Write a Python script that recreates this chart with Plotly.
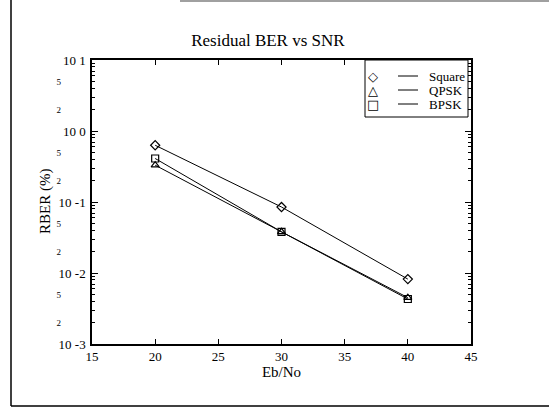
import plotly.graph_objects as go

# Data
ebno = [20, 30, 40]
square = [0.63, 0.085, 0.0082]
qpsk = [0.33, 0.038, 0.0045]
bpsk = [0.41, 0.038, 0.0043]

series_names = ["Square", "QPSK", "BPSK"]
series_vals = [square, qpsk, bpsk]
series_symbols = ["diamond-open", "triangle-up-open", "square-open"]
legend_glyphs = ["◇", "△", "□"]

major_vals = [1e-3, 1e-2, 1e-1, 1e0, 1e1]
major_text = ["10 -3", "10 -2", "10 -1", "10 0", "10 1"]
minor_vals = [2e-3, 5e-3, 2e-2, 5e-2, 2e-1, 5e-1, 2, 5]
minor_text = ["2", "5", "2", "5", "2", "5", "2", "5"]

FONT = "Liberation Serif"

fig = go.Figure()
for name, vals, sym in zip(series_names, series_vals, series_symbols):
    fig.add_trace(go.Scatter(
        x=ebno, y=vals, name=name, mode="lines+markers",
        line=dict(color="black", width=1),
        marker=dict(symbol=sym, size=7, color="black", line=dict(color="black", width=1.2)),
        showlegend=False,
    ))
# invisible trace to activate second y axis for minor labels
fig.add_trace(go.Scatter(x=[ebno[0]], y=[square[0]], yaxis="y2", mode="markers",
                         marker=dict(opacity=0), showlegend=False, hoverinfo="skip"))

fig.update_layout(
    width=549, height=409,
    margin=dict(l=92, r=78, t=60, b=65),
    paper_bgcolor="white", plot_bgcolor="white",
    font=dict(family=FONT, color="black", size=13),
    title=dict(text="Residual BER vs SNR", x=0.488, xanchor="center", y=0.902, yanchor="middle",
               font=dict(size=17, family=FONT, color="black")),
    xaxis=dict(range=[15, 45], dtick=5, tick0=15, ticks="inside", ticklen=5, tickcolor="black",
               showline=True, linecolor="black", linewidth=1.5, mirror="ticks", showgrid=False,
               zeroline=False, automargin=False,
               title=dict(text="Eb/No", font=dict(size=15, family=FONT, color="black"), standoff=2),
               tickfont=dict(size=13, family=FONT, color="black")),
    yaxis=dict(type="log", range=[-3, 1], tickvals=major_vals, ticktext=major_text,
               ticks="inside", ticklen=6, tickcolor="black",
               minor=dict(ticks="inside", ticklen=3, dtick="D1", tickcolor="black"),
               showline=True, linecolor="black", linewidth=1.5, mirror="ticks", showgrid=False,
               zeroline=False, automargin=False,
               tickfont=dict(size=13, family=FONT, color="black"), ticklabelstandoff=2),
    yaxis2=dict(type="log", range=[-3, 1], overlaying="y", side="left", anchor="x",
                tickvals=minor_vals, ticktext=minor_text, ticks="", showline=False,
                showgrid=False, zeroline=False, automargin=False,
                tickfont=dict(size=9, family=FONT, color="black"), ticklabelstandoff=30),
)

# Y axis title
fig.add_annotation(xref="paper", yref="paper", x=(45 - 92) / 379, y=0.5, text="RBER (%)",
                   textangle=-90, showarrow=False, xanchor="center", yanchor="middle",
                   font=dict(size=15, family=FONT, color="black"))

# Custom legend (marker, line, label) in paper coordinates
lx0, lx1 = (365 - 92) / 379, (468 - 92) / 379
ly_top, ly_bot = 1.0, 1 - (117 - 60) / 284
fig.add_shape(type="rect", xref="paper", yref="paper", x0=lx0, x1=lx1, y0=ly_bot, y1=ly_top,
              line=dict(color="black", width=1), fillcolor="white", layer="above")
row_y = [76, 90, 104]
for glyph, name, ry in zip(legend_glyphs, series_names, row_y):
    yp = 1 - (ry - 60) / 284
    fig.add_annotation(xref="paper", yref="paper", x=(373 - 92) / 379, y=yp, text=glyph,
                       showarrow=False, font=dict(size=13, family="DejaVu Sans", color="black"),
                       xanchor="center", yanchor="middle")
    fig.add_shape(type="line", xref="paper", yref="paper", x0=(398 - 92) / 379,
                  x1=(418 - 92) / 379, y0=yp, y1=yp, line=dict(color="black", width=1))
    fig.add_annotation(xref="paper", yref="paper", x=(427 - 92) / 379, y=yp, text=name,
                       showarrow=False, font=dict(size=13, family=FONT, color="black"),
                       xanchor="left", yanchor="middle")

# Outer page frame (scan border)
fig.add_shape(type="line", xref="paper", yref="paper",
              x0=(11 - 92) / 379, x1=(11 - 92) / 379, y0=-(406 - 344) / 284, y1=1 + 60 / 284,
              line=dict(color="black", width=1.5))
fig.add_shape(type="line", xref="paper", yref="paper",
              x0=(11 - 92) / 379, x1=(549 - 92) / 379, y0=-(406 - 344) / 284, y1=-(406 - 344) / 284,
              line=dict(color="black", width=1.5))
fig.add_shape(type="line", xref="paper", yref="paper",
              x0=(180 - 92) / 379, x1=(549 - 92) / 379, y0=1 + 59 / 284, y1=1 + 59 / 284,
              line=dict(color="gray", width=1.5))

fig.write_html("out.html", config={"displayModeBar": False},
               post_script="document.body.style.margin='0';")
